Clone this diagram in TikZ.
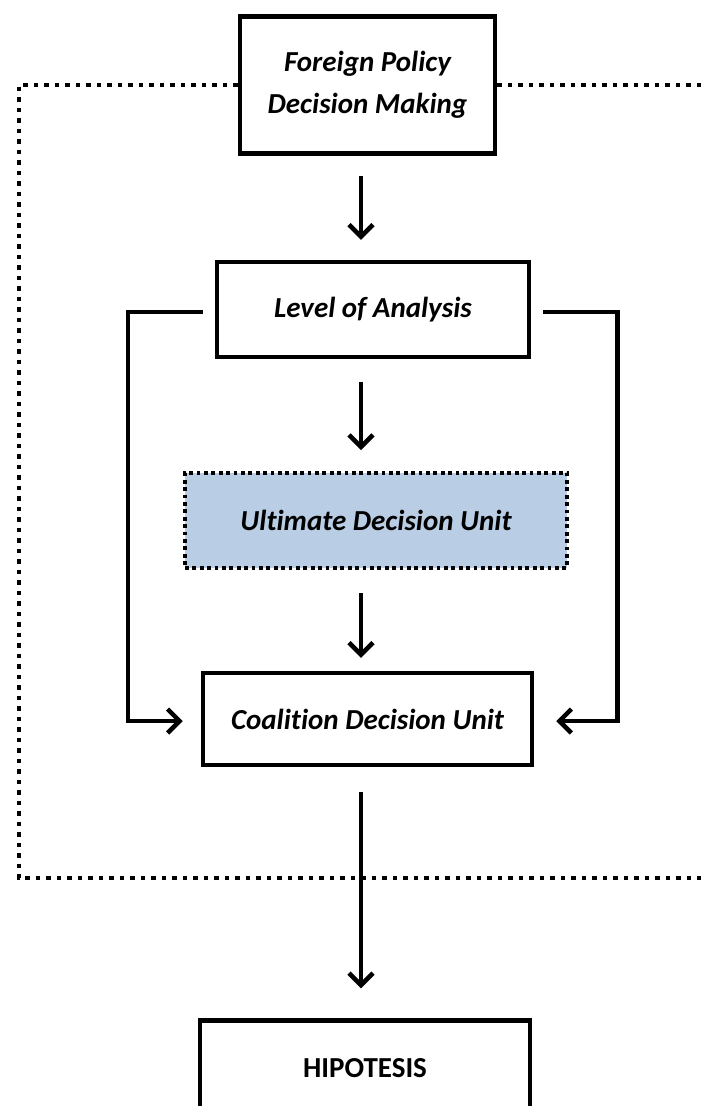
\documentclass[tikz,border=0pt]{standalone}
\usepackage{fontspec}
\setmainfont{Carlito}[Ligatures=NoCommon]
\usetikzlibrary{arrows.meta, positioning, calc}
\definecolor{unitblue}{RGB}{185,205,228}

\begin{document}
\begin{tikzpicture}[
    x=1pt, y=-1pt,
    box/.style={rectangle, draw, line width=4.5pt, fill=white, minimum height=95pt, font=\fontsize{29}{42}\selectfont\bfseries\itshape, align=center},
    unitbox/.style={box, line width=3.8pt, dash pattern=on 3.8pt off 3.6pt, fill=unitblue},
    arr/.style={line width=4.5pt, -{Straight Barb[length=12pt, width=24pt]}},
    frame/.style={line width=4.5pt, dash pattern=on 4.5pt off 6pt}
]
\useasboundingbox (0,0) rectangle (701,1106);
\clip (0,0) rectangle (701,1106);

\node[box, minimum width=255pt, minimum height=137pt] (fp) at (367.5,85) {Foreign Policy\\Decision Making};
\node[box, minimum width=312pt] (loa) at (373,309.5) {Level of Analysis};
\node[unitbox, minimum width=382pt] (udu) at (376,520.5) {Ultimate Decision Unit};
\node[box, minimum width=329pt, minimum height=92pt] (cdu) at (367.5,719) {Coalition Decision Unit};
\node[box, minimum width=330pt, font=\fontsize{29}{42}\selectfont\bfseries] (hip) at (365,1068) {HIPOTESIS};

\draw[frame] (fp.west) -- ++(-219,0) |- (701,878);
\draw[frame] (fp.east) -- ++(206,0);

\coordinate (axis) at (361,0);
\draw[arr] ($(axis |- fp.south)+(0,20)$) -- ($(axis |- loa.north)+(0,-20)$);
\draw[arr] ($(axis |- loa.south)+(0,23)$) -- ($(axis |- udu.north)+(0,-21)$);
\draw[arr] ($(axis |- udu.south)+(0,23)$) -- ($(axis |- cdu.north)+(0,-13)$);
\draw[arr] ($(axis |- cdu.south)+(0,25)$) -- ($(axis |- hip.north)+(0,-30)$);

\draw[arr] ($(loa.west)+(-12,2.5)$) -- ++(-75,0) |- ($(cdu.west)+(-18,2)$);
\draw[arr] ($(loa.east)+(12,2.5)$) -- ++(74,0) |- ($(cdu.east)+(22,2)$);
\end{tikzpicture}
\end{document}
